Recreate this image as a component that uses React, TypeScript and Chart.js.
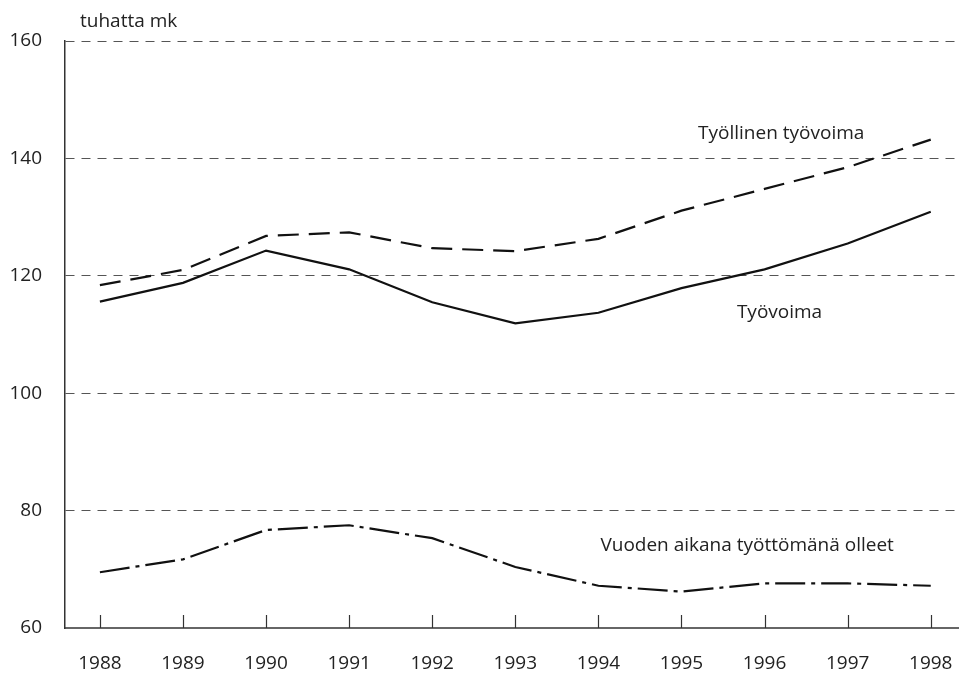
import React, { useEffect, useRef } from "react";
import { Chart, registerables } from "chart.js";

Chart.register(...registerables);

const years = [1988, 1989, 1990, 1991, 1992, 1993, 1994, 1995, 1996, 1997, 1998];
const tyollinenTyovoima = [118.4, 121.0, 126.8, 127.4, 124.7, 124.2, 126.3, 131.1, 134.8, 138.5, 143.2];
const tyovoima = [115.6, 118.8, 124.3, 121.1, 115.5, 111.9, 113.7, 117.9, 121.1, 125.5, 130.9];
const tyottomana = [69.5, 71.7, 76.7, 77.5, 75.3, 70.4, 67.2, 66.2, 67.6, 67.6, 67.2];
const yTicks = [60, 80, 100, 120, 140, 160];
const unitLabel = "tuhatta mk";
const seriesLabels = [
  { text: "Työllinen työvoima", x: 1996.2, y: 144.3 },
  { text: "Työvoima", x: 1996.18, y: 113.8 },
  { text: "Vuoden aikana työttömänä olleet", x: 1995.79, y: 74.1 },
];

const FONT = "'Open Sans', 'Noto Sans', sans-serif";

const overlayPlugin = {
  id: "overlay",
  afterDraw(chart: any) {
    const { ctx, chartArea, scales } = chart;
    const xs = scales.x;
    const ys = scales.y;
    ctx.save();
    // inside tick marks
    ctx.strokeStyle = "#333";
    ctx.lineWidth = 1.2;
    years.forEach((yr) => {
      const px = Math.round(xs.getPixelForValue(yr)) + 0.5;
      ctx.beginPath();
      ctx.moveTo(px, chartArea.bottom);
      ctx.lineTo(px, chartArea.bottom - 13);
      ctx.stroke();
    });
    // series labels
    ctx.fillStyle = "#222";
    ctx.font = `19px ${FONT}`;
    ctx.textAlign = "center";
    ctx.textBaseline = "middle";
    seriesLabels.forEach((l) => {
      ctx.fillText(l.text, xs.getPixelForValue(l.x), ys.getPixelForValue(l.y));
    });
    // unit label
    ctx.textAlign = "left";
    ctx.fillText(unitLabel, chartArea.left + 15, chartArea.top - 19);
    ctx.restore();
  },
};

export default function App() {
  const ref = useRef<HTMLCanvasElement>(null);
  useEffect(() => {
    if (!ref.current) return;
    const mk = (vals: number[]) => years.map((x, i) => ({ x, y: vals[i] }));
    const chart = new Chart(ref.current, {
      type: "line",
      data: {
        datasets: [
          {
            label: "Työllinen työvoima",
            data: mk(tyollinenTyovoima),
            borderColor: "#111",
            borderWidth: 2.2,
            borderDash: [21, 10],
            pointRadius: 0,
            tension: 0,
          },
          {
            label: "Työvoima",
            data: mk(tyovoima),
            borderColor: "#111",
            borderWidth: 2.2,
            pointRadius: 0,
            tension: 0,
          },
          {
            label: "Vuoden aikana työttömänä olleet",
            data: mk(tyottomana),
            borderColor: "#111",
            borderWidth: 2.2,
            borderDash: [30, 6, 4, 6],
            pointRadius: 0,
            tension: 0,
          },
        ],
      },
      options: {
        responsive: false,
        animation: false,
        layout: { padding: { top: 41, right: 0, left: 0, bottom: 0 } },
        plugins: { legend: { display: false }, tooltip: { enabled: false } },
        scales: {
          x: {
            type: "linear",
            min: 1987.58,
            max: 1998.34,
            afterBuildTicks: (scale: any) => {
              scale.ticks = years.map((v) => ({ value: v }));
            },
            afterFit: (scale: any) => {
              scale.height = 45;
              scale.paddingLeft = 0;
              scale.paddingRight = 0;
            },
            grid: { display: false, drawTicks: false },
            border: { display: true, color: "#666", width: 2 },
            ticks: {
              color: "#222",
              font: { family: FONT, size: 19 },
              padding: 24,
              maxRotation: 0,
              autoSkip: false,
              callback: (v: any) => String(v),
            },
          },
          y: {
            min: 60,
            max: 160,
            afterBuildTicks: (scale: any) => {
              scale.ticks = yTicks.map((v) => ({ value: v }));
            },
            afterFit: (scale: any) => {
              scale.width = 65;
              scale.paddingTop = 0;
              scale.paddingBottom = 0;
            },
            grid: {
              drawTicks: false,
              color: (ctx: any) => (ctx.tick && ctx.tick.value === 60 ? "rgba(0,0,0,0)" : "#555"),
              lineWidth: 1,
            },
            border: { display: true, color: "#333", width: 1.5, dash: [9, 7] },
            ticks: {
              color: "#222",
              font: { family: FONT, size: 19 },
              padding: 23,
            },
          },
        },
      },
      plugins: [overlayPlugin],
    });
    return () => chart.destroy();
  }, []);
  return (
    <div style={{ position: "fixed", left: 0, top: 0, width: 959, height: 673, background: "#fff" }}>
      <canvas ref={ref} width={959} height={673} />
    </div>
  );
}
